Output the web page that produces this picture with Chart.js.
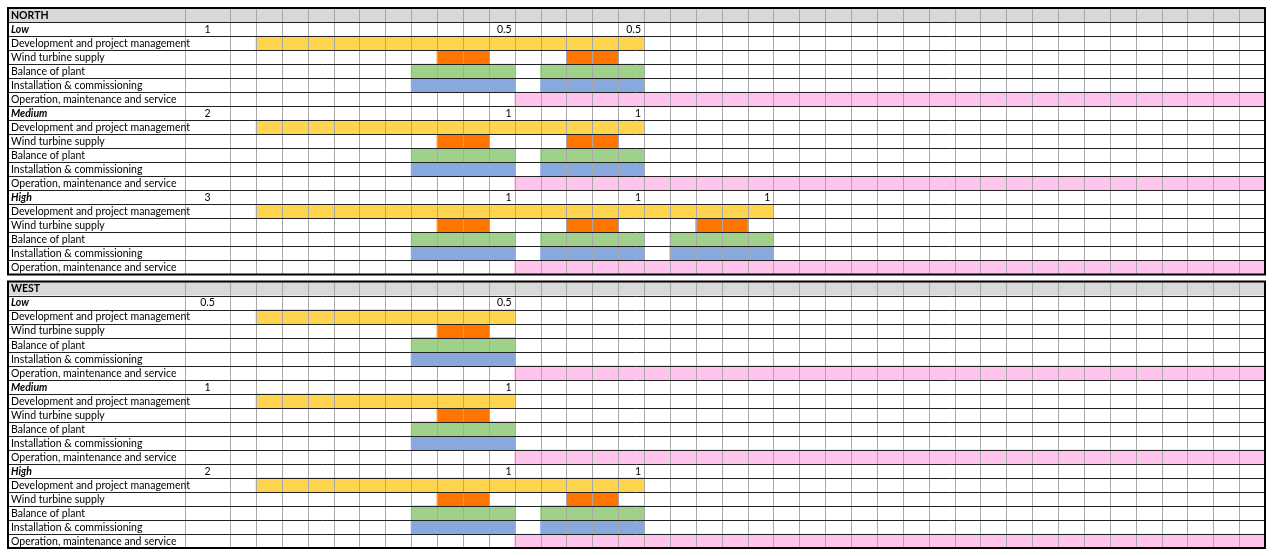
<!DOCTYPE html>
<html><head><meta charset="utf-8">
<script src="https://cdn.jsdelivr.net/npm/chart.js@4/dist/chart.umd.min.js"></script>
<style>html,body{margin:0;padding:0;background:#fff}canvas{display:block}</style>
</head><body>
<canvas id="c" width="1273" height="556"></canvas>
<script>
// ---- data ----
const regions = ["NORTH", "WEST"];
const scenarioNames = ["Low", "Medium", "High"];
const phaseNames = ["Development and project management", "Wind turbine supply", "Balance of plant", "Installation & commissioning", "Operation, maintenance and service"];
const phaseColors = ["#FFD54F", "#FF7500", "#A0D18A", "#87A9DE", "#FFC4EC"];
const totalCols = 40;
const northTotals = ["1", "2", "3"];
const westTotals = ["0.5", "1", "2"];
const northProjLabels = [["0.5", "0.5"], ["1", "1"], ["1", "1", "1"]];
const westProjLabels = [["0.5"], ["1"], ["1", "1"]];
const northProjEnds = [[11, 16], [11, 16], [11, 16, 21]];
const westProjEnds = [[11], [11], [11, 16]];
const northDev = [[[1, 16]], [[1, 16]], [[1, 21]]];
const northWts = [[[8, 10], [13, 15]], [[8, 10], [13, 15]], [[8, 10], [13, 15], [18, 20]]];
const northBop = [[[7, 11], [12, 16]], [[7, 11], [12, 16]], [[7, 11], [12, 16], [17, 21]]];
const northInst = [[[7, 11], [12, 16]], [[7, 11], [12, 16]], [[7, 11], [12, 16], [17, 21]]];
const northOm = [[[11, 40]], [[11, 40]], [[11, 40]]];
const westDev = [[[1, 11]], [[1, 11]], [[1, 16]]];
const westWts = [[[8, 10]], [[8, 10]], [[8, 10], [13, 15]]];
const westBop = [[[7, 11]], [[7, 11]], [[7, 11], [12, 16]]];
const westInst = [[[7, 11]], [[7, 11]], [[7, 11], [12, 16]]];
const westOm = [[[11, 40]], [[11, 40]], [[11, 40]]];

const regionPhases = [
  [northDev, northWts, northBop, northInst, northOm],
  [westDev, westWts, westBop, westInst, westOm]
];
const regionTotals = [northTotals, westTotals];
const regionProjLabels = [northProjLabels, westProjLabels];
const regionProjEnds = [northProjEnds, westProjEnds];
const panelOffset = [0, 19.5];
const rowsPerPanel = 19;

const datasets = phaseNames.map((name, p) => {
  const data = [];
  regions.forEach((r, ri) => {
    scenarioNames.forEach((s, si) => {
      const row = panelOffset[ri] + 1 + si * 6 + 1 + p;
      regionPhases[ri][p][si].forEach(iv => data.push({ x: iv, y: row + 0.5 }));
    });
  });
  return { label: name, data, backgroundColor: phaseColors[p], borderWidth: 0, grouped: false, barPercentage: 1, categoryPercentage: 1 };
});

const FONT = '"Lato", "Open Sans", sans-serif';
const tablePlugin = {
  id: 'table',
  beforeDatasetsDraw(chart) {
    const ctx = chart.ctx, xs = chart.scales.x, ys = chart.scales.y;
    const L = 8, R = xs.getPixelForValue(totalCols);
    ctx.save();
    ctx.fillStyle = '#D9D9D9';
    panelOffset.forEach(o => {
      const t = ys.getPixelForValue(o), b = ys.getPixelForValue(o + 1);
      ctx.fillRect(L, t, R - L, b - t);
    });
    ctx.restore();
  },
  afterDatasetsDraw(chart) {
    const ctx = chart.ctx, xs = chart.scales.x, ys = chart.scales.y;
    const L = 8, V = 185, R = xs.getPixelForValue(totalCols);
    ctx.save();
    panelOffset.forEach((o, ri) => {
      const top = ys.getPixelForValue(o), bot = ys.getPixelForValue(o + rowsPerPanel);
      ctx.strokeStyle = '#A8A8A8'; ctx.lineWidth = 1;
      ctx.beginPath();
      for (let c = 0; c <= totalCols; c++) { const x = Math.round(xs.getPixelForValue(c)) + 0.5; ctx.moveTo(x, top); ctx.lineTo(x, bot); }
      ctx.moveTo(V + 0.5, top); ctx.lineTo(V + 0.5, bot);
      ctx.stroke();
      ctx.strokeStyle = '#222'; ctx.beginPath();
      for (let r = 1; r < rowsPerPanel; r++) { const y = Math.round(ys.getPixelForValue(o + r)) + 0.5; ctx.moveTo(L, y); ctx.lineTo(R, y); }
      ctx.stroke();
      ctx.lineWidth = 2; ctx.strokeStyle = '#000';
      ctx.strokeRect(L, top, R - L, bot - top);
      ctx.fillStyle = '#000'; ctx.textBaseline = 'middle';
      const rowMid = r => ys.getPixelForValue(o + r + 0.5) + 0.5;
      ctx.font = 'bold 10.5px ' + FONT; ctx.textAlign = 'left';
      ctx.fillText(regions[ri], L + 3, rowMid(0));
      scenarioNames.forEach((s, si) => {
        const sr = 1 + si * 6;
        ctx.font = 'italic bold 10.5px ' + FONT; ctx.textAlign = 'left';
        ctx.fillText(s, L + 3, rowMid(sr));
        ctx.font = '10.5px ' + FONT; ctx.textAlign = 'center';
        ctx.fillText(regionTotals[ri][si], (V + xs.getPixelForValue(0)) / 2, rowMid(sr));
        ctx.textAlign = 'right';
        regionProjLabels[ri][si].forEach((lab, k) => {
          ctx.fillText(lab, xs.getPixelForValue(regionProjEnds[ri][si][k]) - 3, rowMid(sr));
        });
        ctx.textAlign = 'left';
        phaseNames.forEach((pn, p) => ctx.fillText(pn, L + 3, rowMid(sr + 1 + p)));
      });
    });
    ctx.restore();
  }
};

new Chart(document.getElementById('c'), {
  type: 'bar',
  data: { datasets },
  options: {
    indexAxis: 'y', responsive: false, animation: false,
    layout: { padding: { left: 230, right: 8, top: 8, bottom: 8 } },
    plugins: { legend: { display: false }, tooltip: { enabled: false } },
    scales: {
      x: { type: 'linear', min: 0, max: totalCols, display: false, offset: false },
      y: { type: 'linear', min: 0, max: 38.5, reverse: true, display: false, offset: false }
    }
  },
  plugins: [tablePlugin]
});
</script>
</body></html>
